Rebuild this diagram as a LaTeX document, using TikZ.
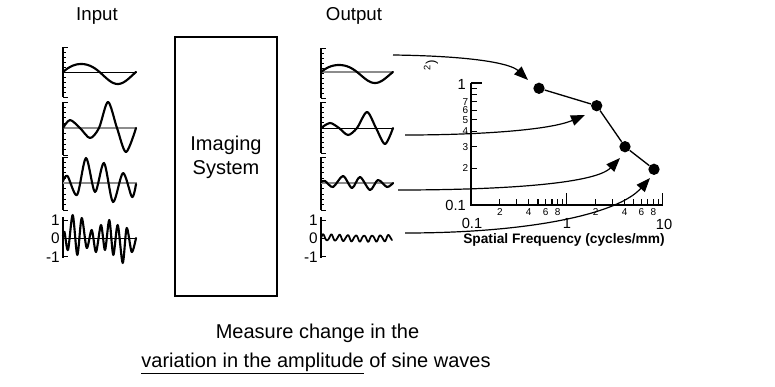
\documentclass[tikz,border=0pt]{standalone}
\usepackage{fontspec}
\setmainfont{Liberation Sans}
\usetikzlibrary{arrows.meta}
\newcommand\mypanelaxis[4]{%
  \draw[paxis] (#1,#2) -- (#1,#4);
  \foreach \k in {0,...,10}{\draw[ptick] (#1,{#2+\k*(#4-#2)/10}) -- ++(2.5,0);}
  \foreach \yy in {#2,#3,#4}{\draw[ptick] (#1,\yy) -- ++(4.5,0);}
}
\begin{document}
\begin{tikzpicture}[x=0.75pt,y=-0.75pt,
  wave/.style={line width=1.6pt, line join=round, line cap=round},
  zeroblack/.style={line width=0.6pt, black},
  zerogray/.style={line width=0.9pt, black!45},
  paxis/.style={line width=0.8pt},
  ptick/.style={line width=0.7pt},
  conn/.style={line width=0.9pt, -{Triangle[length=10.5pt,width=8pt]}},
  gaxis/.style={line width=1.1pt},
  gtick/.style={line width=0.8pt},
  dot/.style={circle, fill=black, inner sep=0pt, minimum size=8.5pt},
  title/.style={font=\fontsize{14}{17}\selectfont, anchor=base},
  plabel/.style={font=\fontsize{11.5}{13}\selectfont, anchor=east, inner sep=0pt},
  biglabel/.style={font=\fontsize{11}{12}\selectfont, inner sep=0pt},
  smalllabel/.style={font=\fontsize{7.5}{8}\selectfont, inner sep=0pt},
  caption/.style={font=\fontsize{15}{18}\selectfont, anchor=base}]
\useasboundingbox (0,0) rectangle (775,386);

% titles
\node[title] (tin) at (97,20) {Input};
\node[title] (tout) at (354,20) {Output};

% imaging system
\node[draw, line width=0.8pt, minimum width=76.5pt, minimum height=194.25pt, inner sep=0pt] (sys) at (226,166.5) {};
\node[font=\fontsize{15}{18}\selectfont, align=center] (systext) at (226,157) {Imaging\\System};

% ---------------- input panels
\mypanelaxis{63}{47}{72}{97}
\draw[zeroblack] (63,72) -- (137,72);
\draw[wave] plot[domain=63:136, samples=70, smooth] (\x, {72 - 10*sin(4.9315*(\x-63)) + 2*(sin(4.9315*(\x-63)))^2});

\mypanelaxis{63}{102}{128}{155}
\draw[zerogray] (63,128) -- (137,128);
\draw[wave] plot[smooth] coordinates {(63,128) (70,120) (80,128) (90,138) (99,128) (108,102) (117,128) (126,152) (136,128)};

\mypanelaxis{63}{157}{183}{210}
\draw[zerogray] (63,183) -- (137,183);
\draw[wave] plot[smooth] coordinates {(63,181) (67.5,176) (77,195) (86,158) (95,192) (104,163) (113,202) (123,173) (132,197) (136,184)};

\draw[paxis] (63,217) -- (63,258);
\foreach \yy in {220,238,256}{\draw[ptick] (63,\yy) -- ++(4.5,0);}
\node[plabel] (i1) at (60,220) {1};
\node[plabel] (i0) at (60,238) {0};
\node[plabel] (im) at (60,257) {-1};
\draw[zeroblack] (63,238) -- (137,238);
\draw[wave] plot[smooth] coordinates {(63,236) (64.5,232) (68,250) (72.7,215) (77.3,255) (81.7,218) (86.7,248) (91.7,230) (96,252) (101,225) (105,250) (109.3,220) (113.3,255) (117.7,225) (122.7,263) (126.7,228) (131.7,252) (136,238)};

% ---------------- output panels
\mypanelaxis{321}{48}{72}{98}
\draw[zerogray] (321,72) -- (393,72);
\draw[wave] plot[domain=321:393, samples=70, smooth] (\x, {72 - 9*sin(5*(\x-321)) + 2*(sin(5*(\x-321)))^2});

\mypanelaxis{321}{102}{128}{153}
\draw[zeroblack] (321,128) -- (393,128);
\draw[wave] plot[smooth] coordinates {(321,128) (330,123) (339,128) (348,135) (357,128) (367,112) (376,128) (385,144) (393,128)};

\mypanelaxis{321}{157}{183}{210}
\draw[zerogray] (321,183) -- (393,183);
\draw[wave] plot[smooth] coordinates {(321,182) (325,181) (333,187) (343,176) (352,188) (360,177) (370,190) (378,180) (387,187) (393,183)};

\draw[paxis] (321,217) -- (321,258);
\foreach \yy in {220,238,256}{\draw[ptick] (321,\yy) -- ++(4.5,0);}
\node[plabel] (o1) at (318,220) {1};
\node[plabel] (o0) at (318,238) {0};
\node[plabel] (om) at (318,257) {-1};
\draw[wave, line width=1.3pt] plot[domain=321:392, samples=160, smooth] (\x, {238 - (3+0.8*sin(40*(\x-321)))*sin(43.9*(\x-321))});

% ---------------- graph
\draw[gaxis] (471,83) -- (471,205) -- (663,205);
\foreach \m in {2,...,9}{
  \draw[gtick] ({471+95.85*log10(\m)},205) -- ++(0,-6);
  \draw[gtick] ({566.85+95.85*log10(\m)},205) -- ++(0,-6);
  \draw[gtick] (471,{205-122*log10(\m)}) -- ++(5.5,0);
}
\draw[gtick] (566.85,205) -- ++(0,-12);
\draw[gtick] (662.7,205) -- ++(0,-12);
\draw[gtick] (471,83) -- ++(11,0);

\node[biglabel, anchor=east] (y1) at (466,84) {1};
\node[biglabel, anchor=east] (y01) at (466,205) {0.1};
\foreach \m in {2,...,7}{
  \node[smalllabel, anchor=east] (yl\m) at (468.5,{205-122*log10(\m)}) {\m};
}
\foreach \m in {2,4,6,8}{
  \node[smalllabel] (xa\m) at ({471+95.85*log10(\m)},212.5) {\m};
  \node[smalllabel] (xb\m) at ({566.85+95.85*log10(\m)},212.5) {\m};
}
\node[biglabel] (x01) at (472,223) {0.1};
\node[biglabel] (x1) at (567,223) {1};
\node[biglabel] (x10) at (664,224) {10};
\node[font=\bfseries\fontsize{10.3}{12}\selectfont] (xt) at (564,240) {Spatial Frequency (cycles/mm)};
\node[font=\fontsize{10}{11}\selectfont, rotate=90, inner sep=0pt] (frag) at (431,65) {\textsuperscript{2})};

\node[dot] (p1) at (539,88.3) {};
\node[dot] (p2) at (596.7,105.7) {};
\node[dot] (p3) at (625,146.7) {};
\node[dot] (p4) at (654,169.3) {};
\draw[line width=1pt] (p1) -- (p2) -- (p3) -- (p4);

% connectors
\coordinate (a1s) at (393,55);  \coordinate (a1e) at (528,80);
\coordinate (a2s) at (405,135); \coordinate (a2e) at (585,115);
\coordinate (a3s) at (398,190); \coordinate (a3e) at (620,158);
\coordinate (a4s) at (405,233); \coordinate (a4e) at (650,178);
\draw[conn] (a1s) .. controls (470,56) and (510,63) .. (a1e);
\draw[conn] (a2s) .. controls (480,135) and (550,130) .. (a2e);
\draw[conn] (a3s) .. controls (500,190) and (595,184) .. (a3e);
\draw[conn] (a4s) .. controls (530,233) and (618,214) .. (a4e);

% caption
\node[caption] (c1) at (317.5,338) {Measure change in the};
\node[caption] (c2) at (316,367) {\underline{variation in the amplitude} of sine waves};
\end{tikzpicture}
\end{document}
